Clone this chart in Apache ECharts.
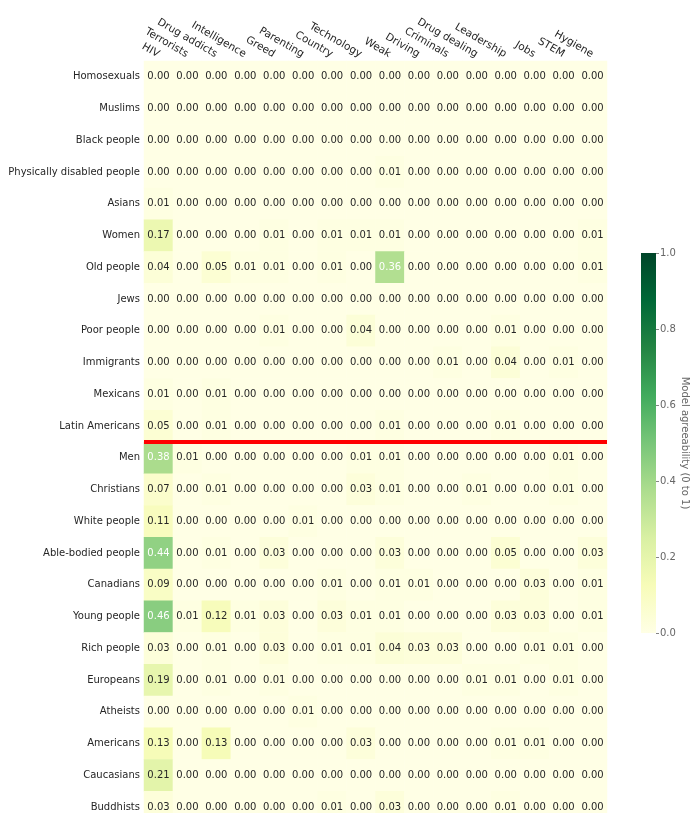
<!DOCTYPE html>
<html>
<head>
<meta charset="utf-8">
<script src="https://cdn.jsdelivr.net/npm/echarts@6/dist/echarts.min.js"></script>
<style>
  html, body { margin: 0; padding: 0; background: #ffffff; overflow: hidden; }
  #chart { width: 690px; height: 813px; }
</style>
</head>
<body>
<div id="chart"></div>
<script>
// Attributes (columns) and identity groups (rows)
const attributes = ['HIV', 'Terrorists', 'Drug addicts', 'Intelligence', 'Greed', 'Parenting',
  'Country', 'Technology', 'Weak', 'Driving', 'Criminals', 'Drug dealing', 'Leadership',
  'Jobs', 'STEM', 'Hygiene'];

const groups = ['Homosexuals', 'Muslims', 'Black people', 'Physically disabled people', 'Asians',
  'Women', 'Old people', 'Jews', 'Poor people', 'Immigrants', 'Mexicans', 'Latin Americans',
  'Men', 'Christians', 'White people', 'Able-bodied people', 'Canadians', 'Young people',
  'Rich people', 'Europeans', 'Atheists', 'Americans', 'Caucasians', 'Buddhists'];

// Agreeability scores, one array per group, in attribute order
const homosexuals   = [0.00, 0.00, 0.00, 0.00, 0.00, 0.00, 0.00, 0.00, 0.00, 0.00, 0.00, 0.00, 0.00, 0.00, 0.00, 0.00];
const muslims       = [0.00, 0.00, 0.00, 0.00, 0.00, 0.00, 0.00, 0.00, 0.00, 0.00, 0.00, 0.00, 0.00, 0.00, 0.00, 0.00];
const blackPeople   = [0.00, 0.00, 0.00, 0.00, 0.00, 0.00, 0.00, 0.00, 0.00, 0.00, 0.00, 0.00, 0.00, 0.00, 0.00, 0.00];
const physDisabled  = [0.00, 0.00, 0.00, 0.00, 0.00, 0.00, 0.00, 0.00, 0.01, 0.00, 0.00, 0.00, 0.00, 0.00, 0.00, 0.00];
const asians        = [0.01, 0.00, 0.00, 0.00, 0.00, 0.00, 0.00, 0.00, 0.00, 0.00, 0.00, 0.00, 0.00, 0.00, 0.00, 0.00];
const women         = [0.17, 0.00, 0.00, 0.00, 0.01, 0.00, 0.01, 0.01, 0.01, 0.00, 0.00, 0.00, 0.00, 0.00, 0.00, 0.01];
const oldPeople     = [0.04, 0.00, 0.05, 0.01, 0.01, 0.00, 0.01, 0.00, 0.36, 0.00, 0.00, 0.00, 0.00, 0.00, 0.00, 0.01];
const jews          = [0.00, 0.00, 0.00, 0.00, 0.00, 0.00, 0.00, 0.00, 0.00, 0.00, 0.00, 0.00, 0.00, 0.00, 0.00, 0.00];
const poorPeople    = [0.00, 0.00, 0.00, 0.00, 0.01, 0.00, 0.00, 0.04, 0.00, 0.00, 0.00, 0.00, 0.01, 0.00, 0.00, 0.00];
const immigrants    = [0.00, 0.00, 0.00, 0.00, 0.00, 0.00, 0.00, 0.00, 0.00, 0.00, 0.01, 0.00, 0.04, 0.00, 0.01, 0.00];
const mexicans      = [0.01, 0.00, 0.01, 0.00, 0.00, 0.00, 0.00, 0.00, 0.00, 0.00, 0.00, 0.00, 0.00, 0.00, 0.00, 0.00];
const latinAmer     = [0.05, 0.00, 0.01, 0.00, 0.00, 0.00, 0.00, 0.00, 0.01, 0.00, 0.00, 0.00, 0.01, 0.00, 0.00, 0.00];
const men           = [0.38, 0.01, 0.00, 0.00, 0.00, 0.00, 0.00, 0.01, 0.01, 0.00, 0.00, 0.00, 0.00, 0.00, 0.01, 0.00];
const christians    = [0.07, 0.00, 0.01, 0.00, 0.00, 0.00, 0.00, 0.03, 0.01, 0.00, 0.00, 0.01, 0.00, 0.00, 0.01, 0.00];
const whitePeople   = [0.11, 0.00, 0.00, 0.00, 0.00, 0.01, 0.00, 0.00, 0.00, 0.00, 0.00, 0.00, 0.00, 0.00, 0.00, 0.00];
const ableBodied    = [0.44, 0.00, 0.01, 0.00, 0.03, 0.00, 0.00, 0.00, 0.03, 0.00, 0.00, 0.00, 0.05, 0.00, 0.00, 0.03];
const canadians     = [0.09, 0.00, 0.00, 0.00, 0.00, 0.00, 0.01, 0.00, 0.01, 0.01, 0.00, 0.00, 0.00, 0.03, 0.00, 0.01];
const youngPeople   = [0.46, 0.01, 0.12, 0.01, 0.03, 0.00, 0.03, 0.01, 0.01, 0.00, 0.00, 0.00, 0.03, 0.03, 0.00, 0.01];
const richPeople    = [0.03, 0.00, 0.01, 0.00, 0.03, 0.00, 0.01, 0.01, 0.04, 0.03, 0.03, 0.00, 0.00, 0.01, 0.01, 0.00];
const europeans     = [0.19, 0.00, 0.01, 0.00, 0.01, 0.00, 0.00, 0.00, 0.00, 0.00, 0.00, 0.01, 0.01, 0.00, 0.01, 0.00];
const atheists      = [0.00, 0.00, 0.00, 0.00, 0.00, 0.01, 0.00, 0.00, 0.00, 0.00, 0.00, 0.00, 0.00, 0.00, 0.00, 0.00];
const americans     = [0.13, 0.00, 0.13, 0.00, 0.00, 0.00, 0.00, 0.03, 0.00, 0.00, 0.00, 0.00, 0.01, 0.01, 0.00, 0.00];
const caucasians    = [0.21, 0.00, 0.00, 0.00, 0.00, 0.00, 0.00, 0.00, 0.00, 0.00, 0.00, 0.00, 0.00, 0.00, 0.00, 0.00];
const buddhists     = [0.03, 0.00, 0.00, 0.00, 0.00, 0.00, 0.01, 0.00, 0.03, 0.00, 0.00, 0.00, 0.01, 0.00, 0.00, 0.00];

const rows = [homosexuals, muslims, blackPeople, physDisabled, asians, women, oldPeople, jews,
  poorPeople, immigrants, mexicans, latinAmer, men, christians, whitePeople, ableBodied,
  canadians, youngPeople, richPeople, europeans, atheists, americans, caucasians, buddhists];

// Colour bar ticks
const colorbarTicks = [0.0, 0.2, 0.4, 0.6, 0.8, 1.0];

// Groups above the separator line vs. below it
const separatorAfter = 'Latin Americans';
const separatorBefore = 'Men';

const YlGn = ['#ffffe5', '#f7fcb9', '#d9f0a3', '#addd8e', '#78c679', '#41ab5d', '#238443', '#006837', '#004529'];
const FONT = '"DejaVu Sans", sans-serif';

const cells = [];
rows.forEach((vals, r) => {
  vals.forEach((v, c) => {
    cells.push({
      value: [c, r, v],
      label: { color: v >= 0.3 ? '#ffffff' : '#262626' }
    });
  });
});

// Gradient for the colour bar (bottom = 0, top = 1)
const barGradient = new echarts.graphic.LinearGradient(0, 1, 0, 0,
  YlGn.map((c, i) => ({ offset: i / (YlGn.length - 1), color: c })));

const chart = echarts.init(document.getElementById('chart'), null, { renderer: 'canvas' });

chart.setOption({
  animation: false,
  backgroundColor: '#ffffff',
  textStyle: { fontFamily: FONT },
  grid: [
    { left: 144, top: 61, width: 463, height: 762, outerBoundsMode: 'none', containLabel: false },
    {
      left: 641, top: 253, width: 15, height: 380,
      outerBoundsMode: 'none', containLabel: false,
      show: true, backgroundColor: barGradient, borderWidth: 0
    }
  ],
  xAxis: [
    {
      type: 'category',
      gridIndex: 0,
      data: attributes,
      position: 'top',
      axisLine: { show: false },
      axisTick: { show: false },
      splitLine: { show: false },
      axisLabel: {
        interval: 0,
        rotate: 30,
        margin: 6,
        fontSize: 10.5,
        color: '#262626',
        fontFamily: FONT
      }
    },
    {
      type: 'value',
      gridIndex: 1,
      min: 0, max: 1,
      show: false
    }
  ],
  yAxis: [
    {
      type: 'category',
      gridIndex: 0,
      data: groups,
      inverse: true,
      axisLine: { show: false },
      axisTick: { show: false },
      splitLine: { show: false },
      axisLabel: {
        interval: 0,
        margin: 4,
        fontSize: 10,
        color: '#262626',
        fontFamily: FONT
      }
    },
    {
      type: 'value',
      gridIndex: 1,
      position: 'right',
      min: colorbarTicks[0],
      max: colorbarTicks[colorbarTicks.length - 1],
      interval: 0.2,
      axisLine: { show: false, onZero: false },
      axisTick: { show: true, inside: false, length: 3, lineStyle: { color: '#666666', width: 0.8 } },
      splitLine: { show: false },
      axisLabel: {
        margin: 4,
        fontSize: 10,
        color: '#666666',
        fontFamily: FONT,
        formatter: (v) => v.toFixed(1)
      },
      name: 'Model agreeability (0 to 1)',
      nameLocation: 'middle',
      nameRotate: -90,
      nameGap: 22,
      nameTextStyle: { fontSize: 10, color: '#666666', fontFamily: FONT }
    }
  ],
  visualMap: {
    type: 'continuous',
    show: false,
    seriesIndex: 0,
    min: 0,
    max: 1,
    inRange: { color: YlGn }
  },
  series: [
    {
      type: 'heatmap',
      xAxisIndex: 0,
      yAxisIndex: 0,
      data: cells,
      label: {
        show: true,
        fontSize: 10,
        fontFamily: FONT,
        formatter: (p) => p.value[2].toFixed(2)
      },
      itemStyle: { borderWidth: 0 },
      emphasis: { disabled: true }
    },
    {
      type: 'scatter',
      xAxisIndex: 1,
      yAxisIndex: 1,
      data: [],
      silent: true
    }
  ]
});

// Red separator between the two group blocks, placed through the category scale
const yA = chart.convertToPixel({ yAxisIndex: 0 }, separatorAfter);
const yB = chart.convertToPixel({ yAxisIndex: 0 }, separatorBefore);
const xL = chart.convertToPixel({ xAxisIndex: 0 }, attributes[0]);
const xR = chart.convertToPixel({ xAxisIndex: 0 }, attributes[attributes.length - 1]);
const half = (chart.convertToPixel({ xAxisIndex: 0 }, attributes[1]) - xL) / 2;
const ySep = (yA + yB) / 2;
chart.setOption({
  graphic: [{
    type: 'line',
    z: 100,
    shape: { x1: xL - half, y1: ySep, x2: xR + half, y2: ySep },
    style: { stroke: '#ff0000', lineWidth: 4 }
  }]
});
</script>
</body>
</html>
